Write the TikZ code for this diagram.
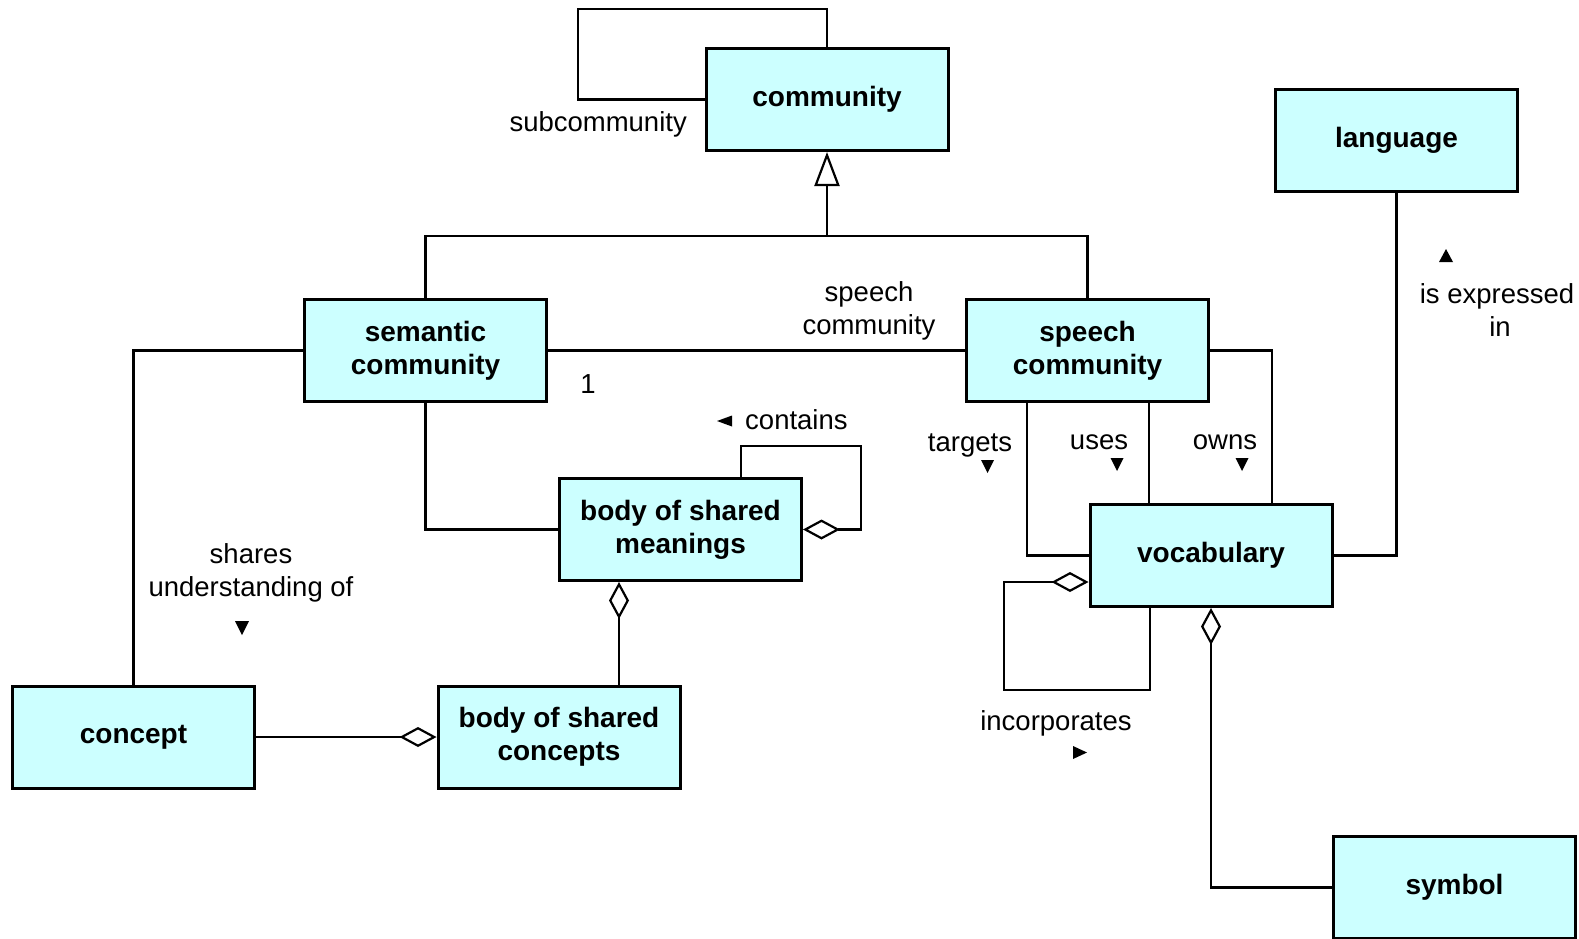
\documentclass[tikz,border=0pt]{standalone}
\usepackage{fontspec}
\setmainfont{Liberation Sans}
\usetikzlibrary{arrows.meta}
\definecolor{boxfill}{HTML}{CCFFFF}
\begin{document}
\begin{tikzpicture}[x=1pt,y=-1pt,
  cls/.style={draw=black, line width=3pt, fill=boxfill, minimum width=242pt, minimum height=102pt, inner sep=0pt, align=center, font=\fontsize{28}{33}\selectfont\bfseries},
  conn/.style={line width=2.2pt, draw=black},
  agg/.style={conn, -{Diamond[open, length=37pt, width=20pt]}},
  gen/.style={conn, -{Triangle[open, length=34pt, width=25pt]}},
  lbl/.style={font=\fontsize{27.5}{33}\selectfont, inner sep=0pt},
  tri/.style={fill=black, draw=none}]

\useasboundingbox (0,0) rectangle (1579,938);

% classes
\node[cls] (comm) at (827,99.5) {community};
\node[cls] (lang) at (1396.5,140.5) {language};
\node[cls] (sem) at (425.5,350.5) {semantic\\community};
\node[cls] (sp) at (1087.5,350.5) {speech\\community};
\node[cls] (bsm) at (680.5,529.5) {body of shared\\meanings};
\node[cls] (vocab) at (1211,555.5) {vocabulary};
\node[cls] (concept) at (133.5,737) {concept};
\node[cls] (bsc) at (559,737) {body of shared\\concepts};
\node[cls] (sym) at (1454.5,887.5) {symbol};

% helper coordinates
\coordinate (sl) at (578,9);
\coordinate (gj) at (827,236);
\coordinate (ct1) at (741,446);
\coordinate (ct2) at (861,446);
\coordinate (bx) at (619,0);
\coordinate (tx) at (1027,0);
\coordinate (ux) at (1149,0);
\coordinate (ox) at (1272,0);
\coordinate (in1) at (1150,690);
\coordinate (in2) at (1004,582);

% connectors
\draw[conn] (comm.west) -| (sl) -| (comm.north);
\draw[conn] (sem.north) |- (gj) -| (sp.north);
\draw[gen] (gj) -- (comm.south);
\draw[conn] (sem.east) -- (sp.west);
\draw[conn] (sem.west) -| (concept.north);
\draw[conn] (sem.south) |- (bsm.west);
\draw[agg] (bsm.north -| ct1) -- (ct1) -- (ct2) |- (bsm.east);
\draw[agg] (bsc.north -| bx) -- (bsm.south -| bx);
\draw[agg] (concept.east) -- (bsc.west);
\draw[conn] (sp.south -| tx) |- (vocab.west);
\draw[conn] (sp.south -| ux) -- (vocab.north -| ux);
\draw[conn] (sp.east) -| (vocab.north -| ox);
\draw[conn] (lang.south) |- (vocab.east);
\draw[agg] (vocab.south -| in1) -- (in1) -| (in2) -- (vocab.west |- in2);
\draw[agg] (sym.west) -| (vocab.south);

% labels
\node[lbl, anchor=base east] (lsub) at (687,131.5) {subcommunity};
\node[lbl, anchor=base] (lsp1) at (869,301) {speech};
\node[lbl, anchor=base] (lsp2) at (869,334) {community};
\node[lbl, anchor=base] (lone) at (588,393) {1};
\node[lbl, anchor=base west] (lcont) at (745,429) {contains};
\fill[tri] (717,421) -- (732,415.5) -- (732,426.5) -- cycle;
\node[lbl, anchor=base] (ltar) at (970,451.5) {targets};
\fill[tri] (981,460) -- (994,460) -- (987.5,473) -- cycle;
\node[lbl, anchor=base] (luse) at (1099,449) {uses};
\fill[tri] (1110.5,458) -- (1123.5,458) -- (1117,471) -- cycle;
\node[lbl, anchor=base] (lown) at (1225,449) {owns};
\fill[tri] (1235.5,458) -- (1248.5,458) -- (1242,471) -- cycle;
\node[lbl, anchor=base] (linc) at (1056,730) {incorporates};
\fill[tri] (1073,746) -- (1073,759) -- (1087,752.5) -- cycle;
\node[lbl, anchor=base] (lsh1) at (251,563) {shares};
\node[lbl, anchor=base] (lsh2) at (251,596) {understanding of};
\fill[tri] (235,621) -- (249,621) -- (242,635) -- cycle;
\node[lbl, anchor=base] (lexp1) at (1497,303) {is expressed};
\node[lbl, anchor=base] (lexp2) at (1500,336) {in};
\fill[tri] (1439,262) -- (1453,262) -- (1446,249) -- cycle;
\end{tikzpicture}
\end{document}
